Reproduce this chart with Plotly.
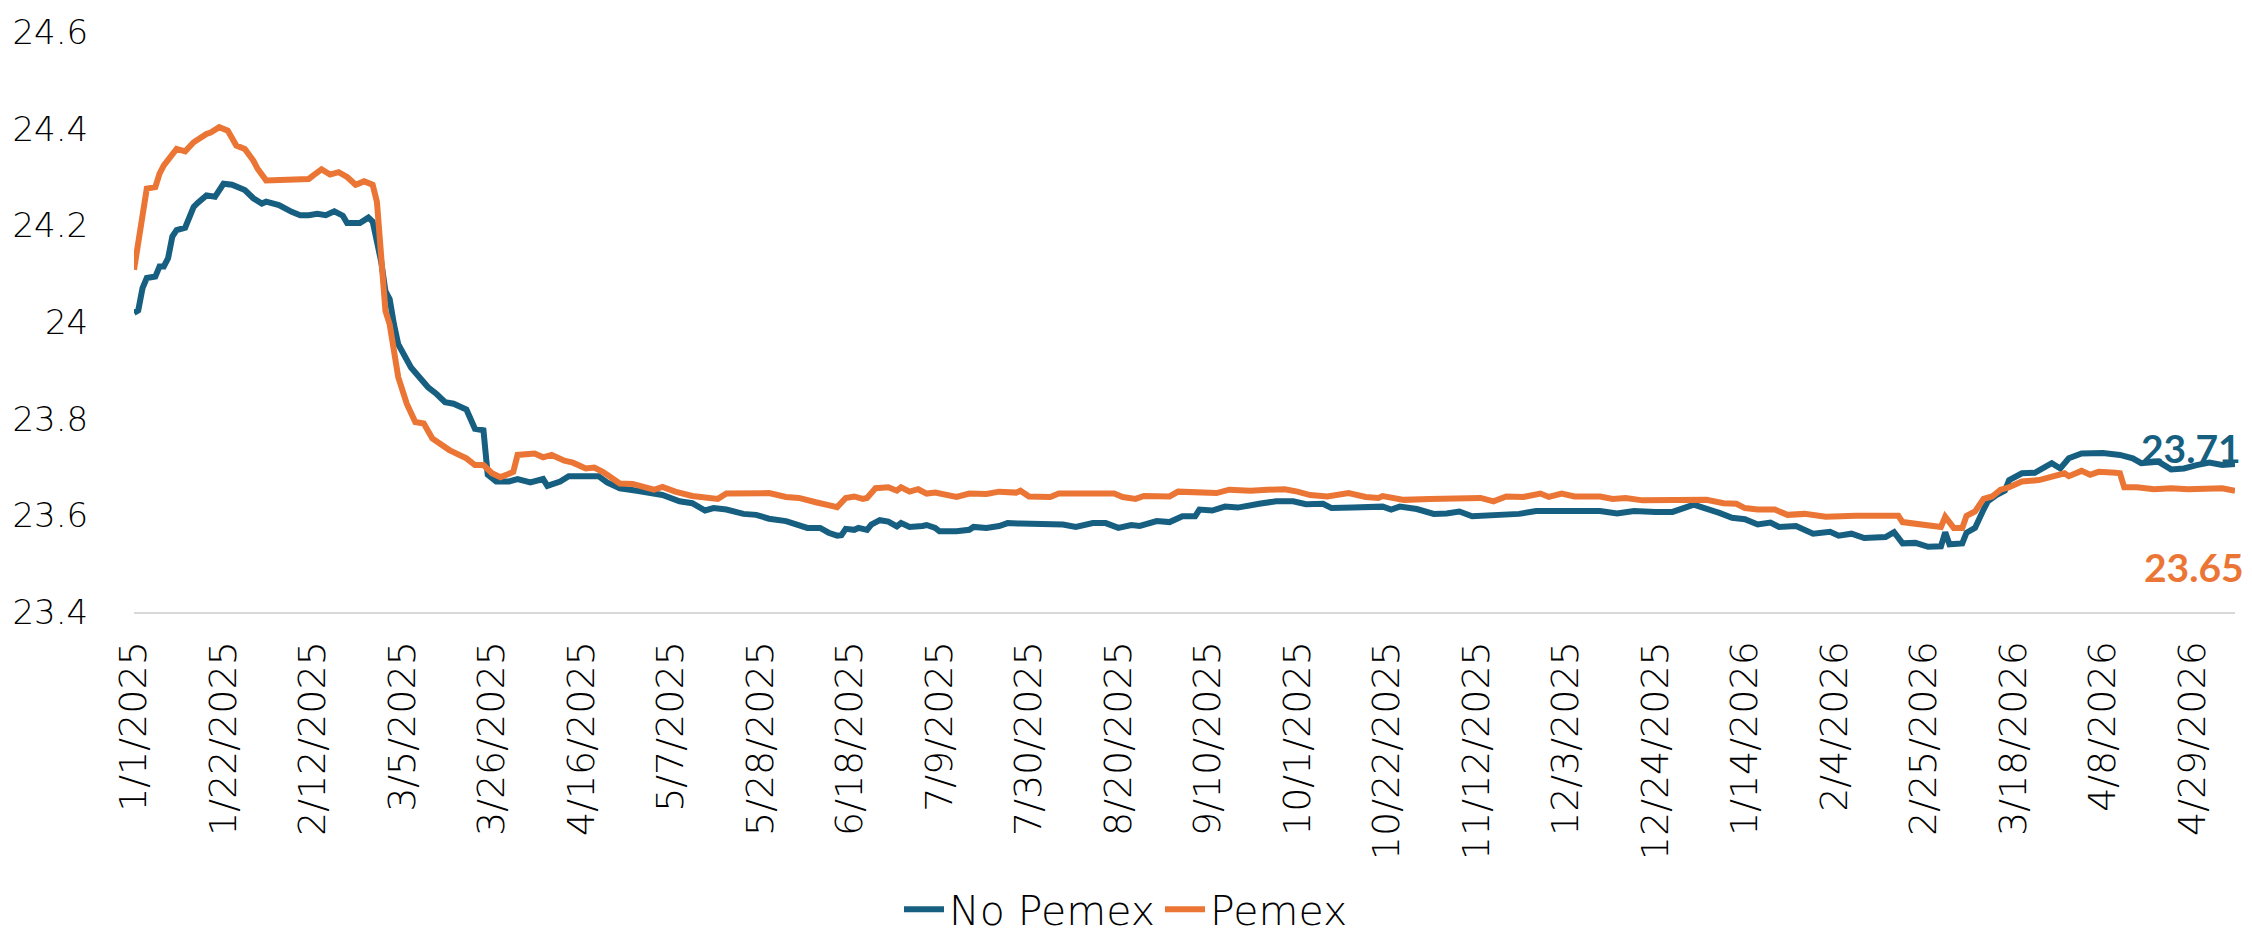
import datetime as dt
import plotly.graph_objects as go

# ---- data (day offsets from 1/1/2025) ----
START = dt.date(2025, 1, 1)

pemex_days = [0, 2, 3, 5, 6, 7, 9, 10, 12, 14, 17, 18, 20, 22, 24, 26, 28, 29, 31, 34, 37, 41, 42, 44, 46, 48,
              50, 52, 54, 56, 57, 58, 59, 60, 62, 64, 66, 68, 70, 74, 77, 78, 80, 82, 84, 86, 88, 89, 90, 94, 96,
              98, 101, 103, 106, 108, 110, 114, 117, 120, 122, 124, 127, 131, 135, 137, 139, 143, 149, 153, 156,
              160, 164, 165, 167, 169, 171, 172, 174, 177, 179, 180, 182, 184, 186, 188, 193, 196, 200, 203, 207,
              208, 210, 215, 217, 222, 227, 230, 232, 235, 237, 243, 245, 250, 254, 257, 262, 266, 270, 273, 276,
              280, 285, 289, 292, 293, 296, 298, 304, 307, 311, 316, 319, 322, 326, 330, 332, 335, 338, 344, 347,
              350, 354, 361, 366, 369, 373, 376, 378, 381, 385, 388, 392, 397, 404, 410, 414, 415, 418, 421, 424,
              425, 427, 429, 430, 432, 434, 436, 438, 440, 443, 447, 450, 453, 454, 457, 459, 461, 465, 466, 467,
              470, 474, 478, 482, 486, 490, 493]
pemex_values = [24.108, 24.228, 24.276, 24.279, 24.307, 24.324, 24.348, 24.358, 24.353, 24.372, 24.389, 24.392,
                24.403, 24.396, 24.365, 24.358, 24.334, 24.317, 24.293, 24.293, 24.293, 24.296, 24.303, 24.316,
                24.305, 24.310, 24.300, 24.284, 24.291, 24.284, 24.249, 24.146, 24.023, 23.995, 23.886, 23.831,
                23.793, 23.790, 23.759, 23.735, 23.721, 23.718, 23.704, 23.704, 23.687, 23.679, 23.686, 23.690,
                23.725, 23.728, 23.720, 23.725, 23.713, 23.709, 23.697, 23.699, 23.690, 23.666, 23.665, 23.658,
                23.653, 23.659, 23.649, 23.640, 23.638, 23.634, 23.645, 23.645, 23.646, 23.638, 23.636,
                23.627, 23.617, 23.617, 23.636, 23.639, 23.634, 23.636, 23.656, 23.658, 23.651, 23.658, 23.649,
                23.654, 23.645, 23.647, 23.638, 23.645, 23.644, 23.649, 23.647, 23.651, 23.639, 23.638, 23.645,
                23.645, 23.644, 23.645, 23.638, 23.634, 23.640, 23.639, 23.649, 23.647, 23.646, 23.653, 23.651,
                23.653, 23.654, 23.649, 23.642, 23.639, 23.646, 23.638, 23.636, 23.640, 23.636, 23.632, 23.634,
                23.634, 23.637, 23.636, 23.629, 23.639, 23.638, 23.645, 23.638, 23.645, 23.639, 23.639, 23.634,
                23.636, 23.631, 23.632, 23.634, 23.632, 23.625, 23.624, 23.615, 23.612, 23.612, 23.601, 23.603,
                23.597, 23.599, 23.599, 23.599, 23.586, 23.583, 23.579, 23.576, 23.597, 23.574, 23.574, 23.599,
                23.608, 23.634, 23.639, 23.653, 23.658, 23.670, 23.673, 23.679, 23.687, 23.681, 23.692, 23.684,
                23.690, 23.688, 23.687, 23.658, 23.658, 23.654, 23.656, 23.654, 23.656, 23.656, 23.651]

nopemex_days = [0, 1, 2, 3, 5, 6, 7, 8, 9, 10, 12, 14, 15, 16, 17, 19, 21, 23, 25, 26, 28, 30, 31, 34, 37, 39,
                41, 43, 45, 47, 49, 50, 53, 55, 56, 58, 59, 60, 61, 62, 65, 67, 69, 71, 73, 75, 77, 78, 80, 82,
                83, 85, 88, 90, 93, 96, 97, 100, 102, 106, 109, 111, 114, 118, 121, 124, 128, 131, 134, 136, 139,
                143, 146, 149, 153, 156, 158, 161, 163, 165, 166, 167, 169, 170, 172, 173, 175, 177, 179, 180,
                182, 185, 186, 188, 189, 193, 196, 197, 200, 203, 205, 208, 214, 218, 221, 225, 228, 231, 234,
                236, 240, 243, 246, 249, 250, 253, 256, 259, 264, 268, 272, 275, 279, 281, 286, 290, 293, 295,
                297, 301, 305, 308, 311, 314, 318, 325, 329, 333, 338, 344, 348, 352, 357, 361, 366, 369, 372,
                375, 378, 381, 384, 386, 390, 394, 398, 400, 403, 406, 411, 413, 415, 418, 421, 424, 425, 426,
                429, 430, 432, 434, 435, 437, 439, 440, 443, 446, 449, 450, 452, 454, 457, 462, 466, 469, 471,
                475, 478, 481, 484, 487, 490, 493]
nopemex_values = [24.019, 24.024, 24.070, 24.091, 24.094, 24.115, 24.115, 24.132, 24.177, 24.190, 24.195,
                  24.238, 24.247, 24.254, 24.262, 24.259, 24.286, 24.284, 24.276, 24.273, 24.256, 24.245,
                  24.249, 24.242, 24.228, 24.221, 24.221, 24.224, 24.221, 24.229, 24.220, 24.205, 24.205,
                  24.216, 24.208, 24.125, 24.064, 24.047, 23.995, 23.954, 23.906, 23.886, 23.865, 23.851,
                  23.834, 23.831, 23.825, 23.819, 23.779, 23.776, 23.684, 23.670, 23.670, 23.675, 23.668,
                  23.675, 23.661, 23.670, 23.681, 23.681, 23.681, 23.668, 23.656, 23.651, 23.645, 23.642,
                  23.629, 23.625, 23.610, 23.615, 23.612, 23.603, 23.601, 23.593, 23.588, 23.581, 23.574,
                  23.574, 23.564, 23.558, 23.559, 23.572, 23.570, 23.574, 23.570, 23.581, 23.590, 23.587,
                  23.577, 23.584, 23.576, 23.578, 23.580, 23.574, 23.567, 23.567, 23.570, 23.576, 23.574,
                  23.578, 23.584, 23.583, 23.583, 23.581, 23.576, 23.584, 23.584, 23.574, 23.580, 23.578,
                  23.588, 23.586, 23.598, 23.598, 23.612, 23.610, 23.618, 23.616, 23.624, 23.629, 23.629,
                  23.623, 23.624, 23.615, 23.616, 23.616, 23.618, 23.612, 23.618, 23.613, 23.603, 23.604,
                  23.608, 23.598, 23.599, 23.603, 23.609, 23.609, 23.610, 23.609, 23.604, 23.609, 23.607,
                  23.607, 23.622, 23.615, 23.605, 23.595, 23.592, 23.581, 23.585, 23.576, 23.578, 23.562,
                  23.566, 23.558, 23.562, 23.553, 23.555, 23.565, 23.542, 23.543, 23.535, 23.536, 23.565,
                  23.540, 23.542, 23.564, 23.574, 23.612, 23.629, 23.642, 23.651, 23.673, 23.687, 23.688,
                  23.701, 23.708, 23.697, 23.718, 23.728, 23.729, 23.725, 23.718, 23.708, 23.711, 23.695,
                  23.697, 23.704, 23.709, 23.704, 23.706]

tick_labels = ["1/1/2025", "1/22/2025", "2/12/2025", "3/5/2025", "3/26/2025", "4/16/2025", "5/7/2025",
               "5/28/2025", "6/18/2025", "7/9/2025", "7/30/2025", "8/20/2025", "9/10/2025", "10/1/2025",
               "10/22/2025", "11/12/2025", "12/3/2025", "12/24/2025", "1/14/2026", "2/4/2026", "2/25/2026",
               "3/18/2026", "4/8/2026", "4/29/2026"]
y_ticks = [23.4, 23.6, 23.8, 24.0, 24.2, 24.4, 24.6]
y_tick_text = ["23.4", "23.6", "23.8", "24", "24.2", "24.4", "24.6"]

end_labels = {"No Pemex": "23.71", "Pemex": "23.65"}

BLUE = "#175F80"
ORANGE = "#EB7535"


def to_dates(days):
    return [START + dt.timedelta(days=d) for d in days]


tick_vals = [dt.datetime.strptime(t, "%m/%d/%Y").date() for t in tick_labels]
x_end = START + dt.timedelta(days=max(pemex_days[-1], nopemex_days[-1]))

fig = go.Figure()
fig.add_trace(go.Scatter(x=to_dates(nopemex_days), y=nopemex_values, mode="lines", name="No Pemex",
                         line=dict(color=BLUE, width=6)))
fig.add_trace(go.Scatter(x=to_dates(pemex_days), y=pemex_values, mode="lines", name="Pemex",
                         line=dict(color=ORANGE, width=6)))

fig.add_annotation(x=1, xref="paper", xanchor="right", xshift=8, y=23.739, yref="y", yanchor="middle",
                   text="<b>" + end_labels["No Pemex"] + "</b>", showarrow=False,
                   font=dict(family="Lato", size=39, color=BLUE))
fig.add_annotation(x=1, xref="paper", xanchor="right", xshift=11, y=23.4925, yref="y", yanchor="middle",
                   text="<b>" + end_labels["Pemex"] + "</b>", showarrow=False,
                   font=dict(family="Lato", size=39, color=ORANGE))

fig.update_layout(
    width=2252, height=943,
    margin=dict(l=132, r=17, t=30, b=331),
    paper_bgcolor="white", plot_bgcolor="rgba(0,0,0,0)",
    font=dict(family="DejaVu Sans", color="black"),
    showlegend=True,
    legend=dict(orientation="h", xref="container", yref="container", x=0.5, xanchor="center",
                y=0.0, yanchor="bottom", font=dict(family="DejaVu Sans", size=41, weight=300),
                itemwidth=40, tracegroupgap=0, borderwidth=0),
)
fig.update_xaxes(
    type="date", range=[START, x_end], tickvals=tick_vals, ticktext=tick_labels, tickangle=-90,
    tickfont=dict(family="DejaVu Sans", size=38, weight=300), showgrid=False, zeroline=False,
    showline=True, linecolor="#D9D9D9", linewidth=2,
    ticks="outside", ticklen=12, tickcolor="rgba(0,0,0,0)",
)
fig.update_yaxes(
    range=[23.4, 24.6], tickvals=y_ticks, ticktext=y_tick_text,
    tickfont=dict(family="DejaVu Sans", size=34, weight=300), showgrid=False, zeroline=False,
    showline=False, ticks="outside", ticklen=38, tickcolor="rgba(0,0,0,0)",
)

fig.write_html("out.html", config={"displayModeBar": False},
               post_script="document.body.style.margin='0px';")
